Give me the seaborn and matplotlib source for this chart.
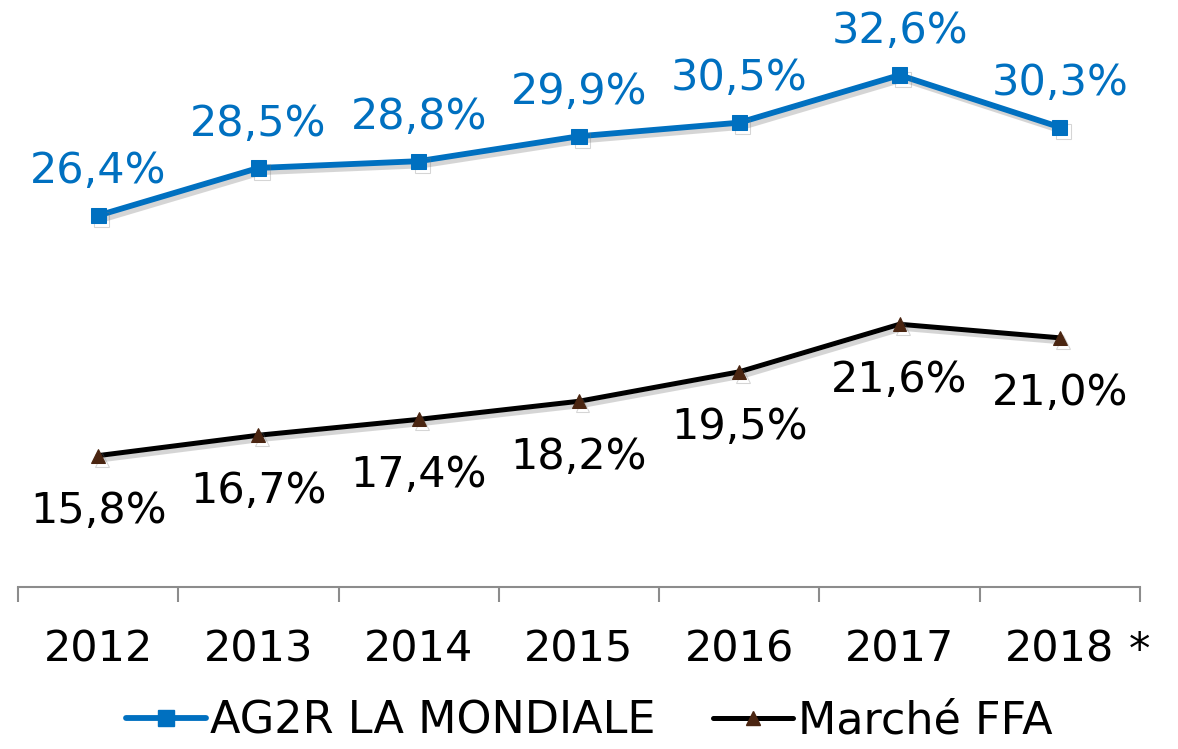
import matplotlib
matplotlib.use("Agg")
import matplotlib.pyplot as plt
import matplotlib.patheffects as pe
from matplotlib.lines import Line2D
import seaborn as sns
import pandas as pd
import numpy as np

# Données
annees = ["2012", "2013", "2014", "2015", "2016", "2017", "2018"]
ag2r = [26.4, 28.5, 28.8, 29.9, 30.5, 32.6, 30.3]
marche_ffa = [15.8, 16.7, 17.4, 18.2, 19.5, 21.6, 21.0]
series = ["AG2R LA MONDIALE", "Marché FFA"]
note_derniere_annee = "*"

BLEU = "#0070C0"
NOIR = "#000000"
MARRON = "#4A2511"

sns.set_style("white")
plt.rcParams['font.family'] = ['DejaVu Sans']
plt.rcParams['text.color'] = NOIR

df = pd.DataFrame({
    "pos": list(range(len(annees))) * 2,
    "valeur": ag2r + marche_ffa,
    "serie": [series[0]] * len(annees) + [series[1]] * len(annees),
})

fig = plt.figure(figsize=(11.78, 7.49), dpi=100)
ax = fig.add_axes([0.0153, 0.2163, 0.9524, 0.756])

ombre = [pe.SimpleLineShadow(offset=(2.5, -3), shadow_color="#777777", alpha=0.3),
         pe.Normal()]

sns.lineplot(data=df[df.serie == series[0]], x="pos", y="valeur", ax=ax,
             color=BLEU, lw=4.2, marker="s", markersize=11,
             markeredgecolor=BLEU, legend=False)
sns.lineplot(data=df[df.serie == series[1]], x="pos", y="valeur", ax=ax,
             color=NOIR, lw=3.6, marker="^", markersize=10,
             markerfacecolor=MARRON, markeredgecolor=MARRON, legend=False)
for ligne in ax.get_lines():
    ligne.set_path_effects(ombre)

# Étiquettes de données
def fmt(v):
    return f"{v:.1f}%".replace(".", ",")

for i, v in enumerate(ag2r):
    ax.annotate(fmt(v), (i, v), xytext=(0, 32), textcoords="offset points",
                ha="center", va="center", fontsize=31, color=BLEU)
for i, v in enumerate(marche_ffa):
    ax.annotate(fmt(v), (i, v), xytext=(0, -40), textcoords="offset points",
                ha="center", va="center", fontsize=31, color=NOIR)

ax.set_xlim(-0.5, len(annees) - 0.5)
ax.set_ylim(10, 35)
ax.set_yticks([])
ax.set_xlabel("")
ax.set_ylabel("")

# Axe X : graduations entre les catégories
ax.set_xticks(range(len(annees)))
ax.set_xticklabels(annees, fontsize=31, color=NOIR)
ax.set_xticks(np.arange(-0.5, len(annees)), minor=True)
ax.tick_params(axis="x", which="major", bottom=False, length=0, pad=30)
ax.tick_params(axis="x", which="minor", bottom=True, direction="out",
               length=11, width=1.5, color="#8C8C8C")
for cote in ["top", "right", "left"]:
    ax.spines[cote].set_visible(False)
ax.spines["bottom"].set_color("#8C8C8C")
ax.spines["bottom"].set_linewidth(1.5)

ax.annotate(note_derniere_annee, (len(annees) - 0.5, 10), xytext=(0, -46),
            textcoords="offset points", ha="center", va="center",
            fontsize=31, color=NOIR, annotation_clip=False)

# Légende
poignees = [
    Line2D([], [], color=BLEU, lw=4.2, marker="s", markersize=11),
    Line2D([], [], color=NOIR, lw=3.6, marker="^", markersize=10,
           markerfacecolor=MARRON, markeredgecolor=MARRON),
]
leg = fig.legend(poignees, series, loc="lower center", bbox_to_anchor=(0.5, -0.045),
                 ncol=2, frameon=False, fontsize=32, handlelength=1.8,
                 handletextpad=0.1, columnspacing=1.3)
for t in leg.get_texts():
    t.set_color(NOIR)

fig.savefig("out.png", dpi=100)
